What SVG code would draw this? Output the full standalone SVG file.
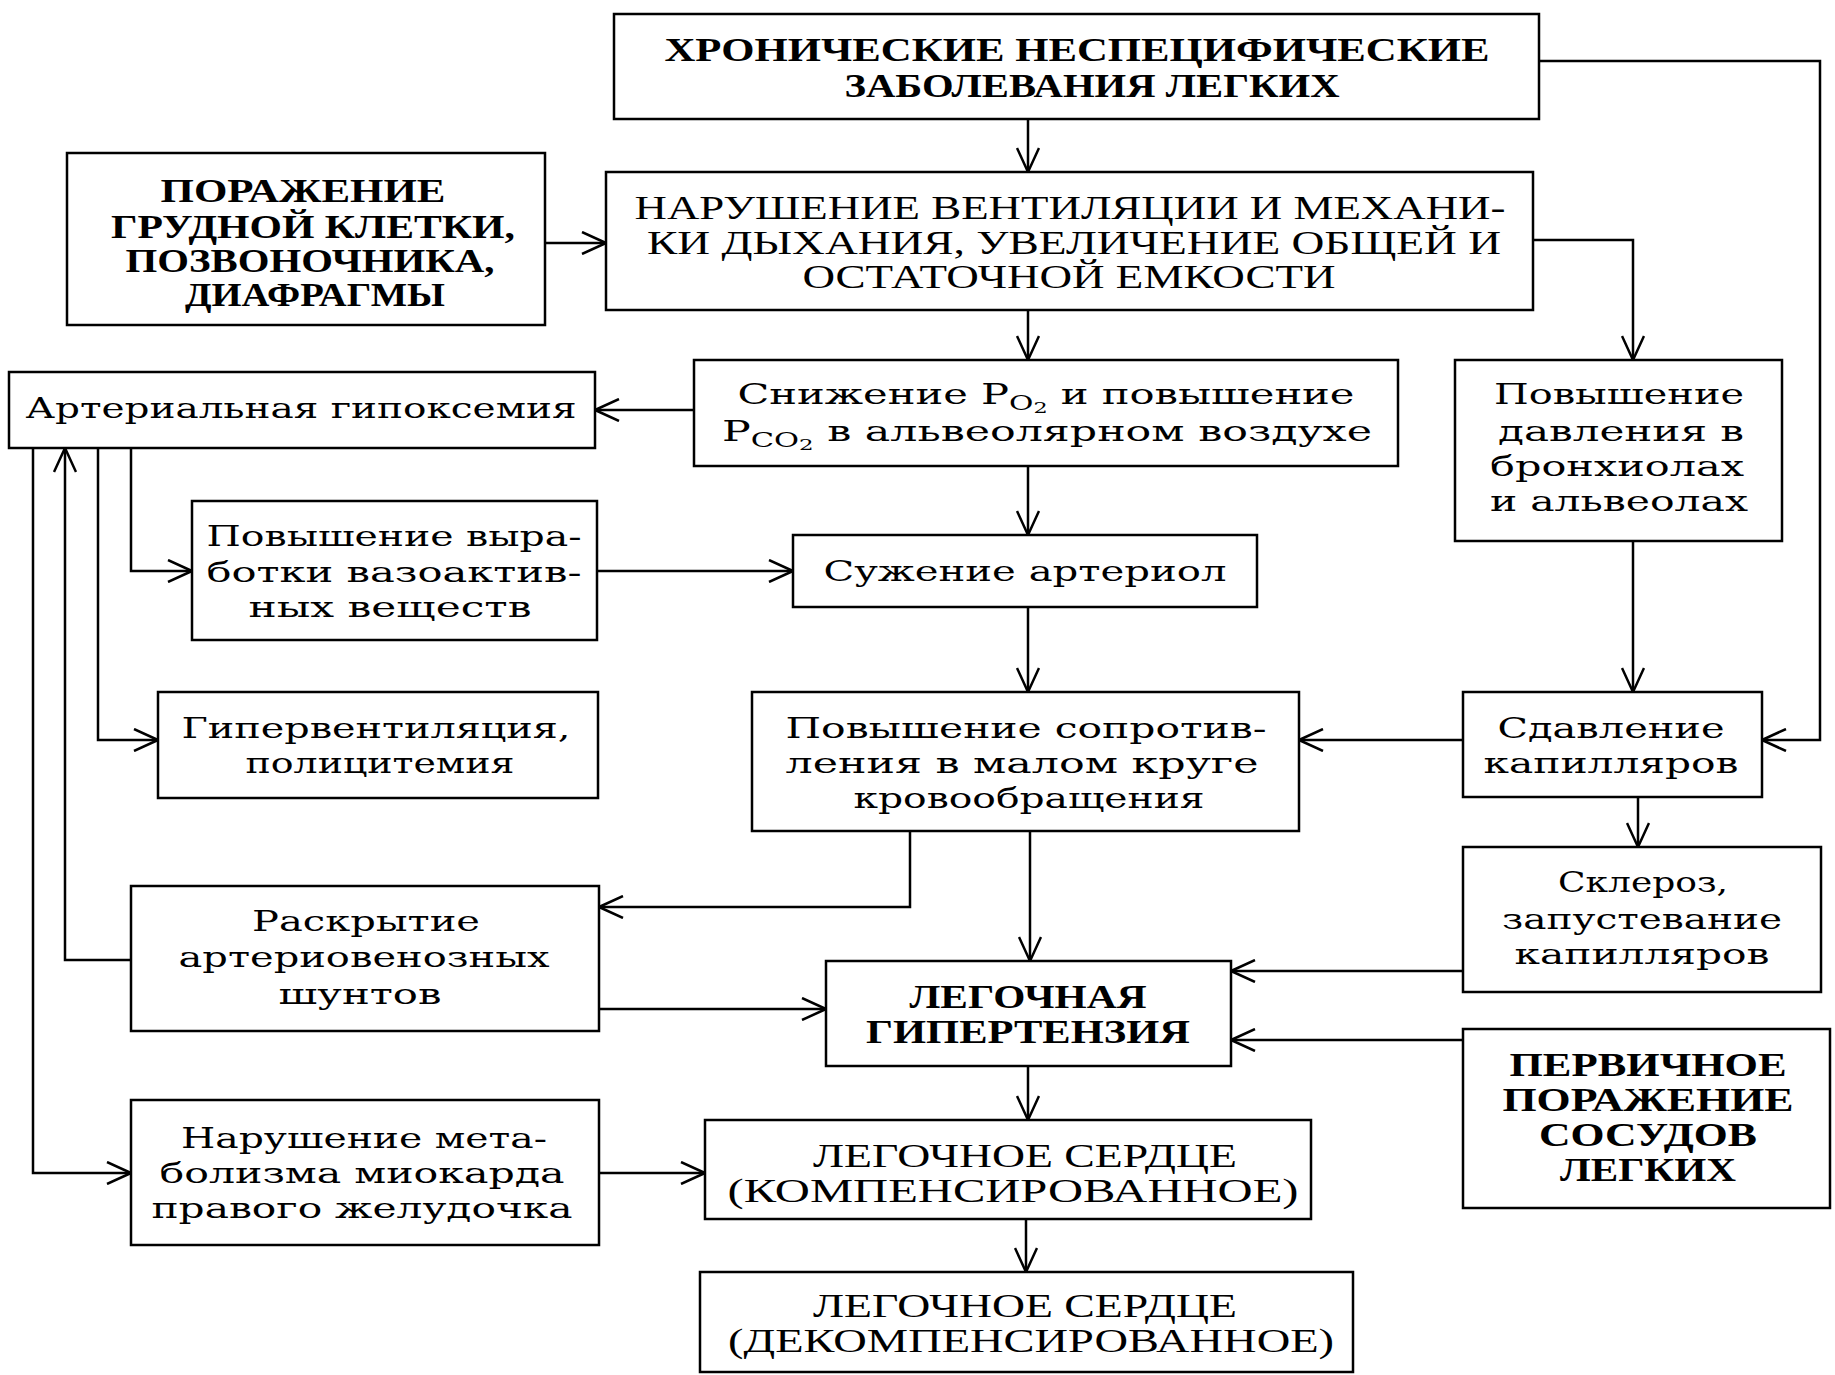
<svg xmlns="http://www.w3.org/2000/svg" width="1835" height="1375" viewBox="0 0 1835 1375">
<style>
.box{fill:#fff;stroke:#000;stroke-width:2.5}
.t{font-family:"DejaVu Serif","Liberation Serif",serif;font-size:28px;text-anchor:middle;fill:#000}
.c{font-family:"Liberation Serif",serif;font-size:33px;text-anchor:middle;fill:#000}
.b{font-family:"Liberation Serif",serif;font-weight:bold;font-size:34px;text-anchor:middle;fill:#000}
.ln{fill:none;stroke:#000;stroke-width:2.5;marker-end:url(#a)}
</style>
<defs>
<marker id="a" viewBox="0 0 26 24" refX="25" refY="12" markerWidth="26" markerHeight="24" markerUnits="userSpaceOnUse" orient="auto">
<path d="M1,1 L25,12 L1,23" fill="none" stroke="#000" stroke-width="2.5"/>
</marker>
</defs>
<rect width="1835" height="1375" fill="#fff"/>
<g id="connectors">
<path class="ln" d="M1028,119 V172"/>
<path class="ln" d="M1539,61 H1820 V740 H1762"/>
<path class="ln" d="M545,243 H606"/>
<path class="ln" d="M1028,310 V360"/>
<path class="ln" d="M1533,240 H1633 V360"/>
<path class="ln" d="M694,410 H595"/>
<path class="ln" d="M1028,466 V535"/>
<path class="ln" d="M597,571 H793"/>
<path class="ln" d="M1028,607 V692"/>
<path class="ln" d="M1633,541 V692"/>
<path class="ln" d="M1463,740 H1299"/>
<path class="ln" d="M1638,797 V847"/>
<path class="ln" d="M910,831 V907 H599"/>
<path class="ln" d="M1030,831 V961"/>
<path class="ln" d="M1463,971 H1231"/>
<path class="ln" d="M1463,1040 H1231"/>
<path class="ln" d="M599,1009 H826"/>
<path class="ln" d="M1028,1066 V1120"/>
<path class="ln" d="M599,1173 H705"/>
<path class="ln" d="M1026,1219 V1272"/>
<path class="ln" d="M33,448 V1173 H131"/>
<path class="ln" d="M131,960 H65 V448"/>
<path class="ln" d="M98,448 V740 H158"/>
<path class="ln" d="M131,448 V571 H192"/>
</g>
<g id="n1">
<rect class="box" x="614" y="14" width="925" height="105"/>
<text class="b" x="1077" y="61" textLength="825" lengthAdjust="spacingAndGlyphs">ХРОНИЧЕСКИЕ НЕСПЕЦИФИЧЕСКИЕ</text>
<text class="b" x="1092" y="97" textLength="495" lengthAdjust="spacingAndGlyphs">ЗАБОЛЕВАНИЯ ЛЕГКИХ</text>
</g>
<g id="n2">
<rect class="box" x="67" y="153" width="478" height="172"/>
<text class="b" x="303" y="202" textLength="285" lengthAdjust="spacingAndGlyphs">ПОРАЖЕНИЕ</text>
<text class="b" x="313" y="238" textLength="404" lengthAdjust="spacingAndGlyphs">ГРУДНОЙ КЛЕТКИ,</text>
<text class="b" x="310" y="272" textLength="369" lengthAdjust="spacingAndGlyphs">ПОЗВОНОЧНИКА,</text>
<text class="b" x="315" y="306" textLength="260" lengthAdjust="spacingAndGlyphs">ДИАФРАГМЫ</text>
</g>
<g id="n3">
<rect class="box" x="606" y="172" width="927" height="138"/>
<text class="c" x="1070" y="219" textLength="871" lengthAdjust="spacingAndGlyphs">НАРУШЕНИЕ ВЕНТИЛЯЦИИ И МЕХАНИ-</text>
<text class="c" x="1074" y="254" textLength="854" lengthAdjust="spacingAndGlyphs">КИ ДЫХАНИЯ, УВЕЛИЧЕНИЕ ОБЩЕЙ И</text>
<text class="c" x="1069" y="288" textLength="533" lengthAdjust="spacingAndGlyphs">ОСТАТОЧНОЙ ЕМКОСТИ</text>
</g>
<g id="n4">
<rect class="box" x="9" y="372" width="586" height="76"/>
<text class="t" x="301" y="418" textLength="551" lengthAdjust="spacingAndGlyphs">Артериальная гипоксемия</text>
</g>
<g id="n5">
<rect class="box" x="694" y="360" width="704" height="106"/>
<text class="t" x="1046" y="404" textLength="617" lengthAdjust="spacingAndGlyphs">Снижение P<tspan font-size="20" dy="6">O</tspan><tspan font-size="15" dy="3">2</tspan><tspan dy="-9"> и повышение</tspan></text>
<text class="t" x="1047" y="441" textLength="650" lengthAdjust="spacingAndGlyphs">P<tspan font-size="20" dy="6">CO</tspan><tspan font-size="15" dy="3">2</tspan><tspan dy="-9"> в альвеолярном воздухе</tspan></text>
</g>
<g id="n6">
<rect class="box" x="1455" y="360" width="327" height="181"/>
<text class="t" x="1619" y="404" textLength="250" lengthAdjust="spacingAndGlyphs">Повышение</text>
<text class="t" x="1621" y="441" textLength="246" lengthAdjust="spacingAndGlyphs">давления в</text>
<text class="t" x="1617" y="476" textLength="254" lengthAdjust="spacingAndGlyphs">бронхиолах</text>
<text class="t" x="1619" y="511" textLength="258" lengthAdjust="spacingAndGlyphs">и альвеолах</text>
</g>
<g id="n7">
<rect class="box" x="192" y="501" width="405" height="139"/>
<text class="t" x="394" y="546" textLength="375" lengthAdjust="spacingAndGlyphs">Повышение выра-</text>
<text class="t" x="394" y="582" textLength="375" lengthAdjust="spacingAndGlyphs">ботки вазоактив-</text>
<text class="t" x="390" y="617" textLength="283" lengthAdjust="spacingAndGlyphs">ных веществ</text>
</g>
<g id="n8">
<rect class="box" x="793" y="535" width="464" height="72"/>
<text class="t" x="1025" y="581" textLength="403" lengthAdjust="spacingAndGlyphs">Сужение артериол</text>
</g>
<g id="n9">
<rect class="box" x="158" y="692" width="440" height="106"/>
<text class="t" x="376" y="738" textLength="389" lengthAdjust="spacingAndGlyphs">Гипервентиляция,</text>
<text class="t" x="380" y="773" textLength="269" lengthAdjust="spacingAndGlyphs">полицитемия</text>
</g>
<g id="n10">
<rect class="box" x="752" y="692" width="547" height="139"/>
<text class="t" x="1026" y="738" textLength="481" lengthAdjust="spacingAndGlyphs">Повышение сопротив-</text>
<text class="t" x="1022" y="773" textLength="473" lengthAdjust="spacingAndGlyphs">ления в малом круге</text>
<text class="t" x="1029" y="808" textLength="351" lengthAdjust="spacingAndGlyphs">кровообращения</text>
</g>
<g id="n11">
<rect class="box" x="1463" y="692" width="299" height="105"/>
<text class="t" x="1611" y="738" textLength="227" lengthAdjust="spacingAndGlyphs">Сдавление</text>
<text class="t" x="1611" y="773" textLength="255" lengthAdjust="spacingAndGlyphs">капилляров</text>
</g>
<g id="n12">
<rect class="box" x="1463" y="847" width="358" height="145"/>
<text class="t" x="1643" y="892" textLength="170" lengthAdjust="spacingAndGlyphs">Склероз,</text>
<text class="t" x="1642" y="929" textLength="280" lengthAdjust="spacingAndGlyphs">запустевание</text>
<text class="t" x="1642" y="964" textLength="255" lengthAdjust="spacingAndGlyphs">капилляров</text>
</g>
<g id="n13">
<rect class="box" x="131" y="886" width="468" height="145"/>
<text class="t" x="366" y="931" textLength="228" lengthAdjust="spacingAndGlyphs">Раскрытие</text>
<text class="t" x="364" y="967" textLength="371" lengthAdjust="spacingAndGlyphs">артериовенозных</text>
<text class="t" x="360" y="1004" textLength="163" lengthAdjust="spacingAndGlyphs">шунтов</text>
</g>
<g id="n14">
<rect class="box" x="826" y="961" width="405" height="105"/>
<text class="b" x="1028" y="1008" textLength="237" lengthAdjust="spacingAndGlyphs">ЛЕГОЧНАЯ</text>
<text class="b" x="1028" y="1043" textLength="324" lengthAdjust="spacingAndGlyphs">ГИПЕРТЕНЗИЯ</text>
</g>
<g id="n15">
<rect class="box" x="1463" y="1029" width="367" height="179"/>
<text class="b" x="1648" y="1076" textLength="277" lengthAdjust="spacingAndGlyphs">ПЕРВИЧНОЕ</text>
<text class="b" x="1648" y="1111" textLength="291" lengthAdjust="spacingAndGlyphs">ПОРАЖЕНИЕ</text>
<text class="b" x="1648" y="1146" textLength="218" lengthAdjust="spacingAndGlyphs">СОСУДОВ</text>
<text class="b" x="1648" y="1181" textLength="176" lengthAdjust="spacingAndGlyphs">ЛЕГКИХ</text>
</g>
<g id="n16">
<rect class="box" x="131" y="1100" width="468" height="145"/>
<text class="t" x="364" y="1148" textLength="366" lengthAdjust="spacingAndGlyphs">Нарушение мета-</text>
<text class="t" x="362" y="1183" textLength="405" lengthAdjust="spacingAndGlyphs">болизма миокарда</text>
<text class="t" x="362" y="1218" textLength="421" lengthAdjust="spacingAndGlyphs">правого желудочка</text>
</g>
<g id="n17">
<rect class="box" x="705" y="1120" width="606" height="99"/>
<text class="c" x="1025" y="1167" textLength="424" lengthAdjust="spacingAndGlyphs">ЛЕГОЧНОЕ СЕРДЦЕ</text>
<text class="c" x="1013" y="1202" textLength="571" lengthAdjust="spacingAndGlyphs">(КОМПЕНСИРОВАННОЕ)</text>
</g>
<g id="n18">
<rect class="box" x="700" y="1272" width="653" height="100"/>
<text class="c" x="1025" y="1317" textLength="424" lengthAdjust="spacingAndGlyphs">ЛЕГОЧНОЕ СЕРДЦЕ</text>
<text class="c" x="1031" y="1352" textLength="606" lengthAdjust="spacingAndGlyphs">(ДЕКОМПЕНСИРОВАННОЕ)</text>
</g>
</svg>
